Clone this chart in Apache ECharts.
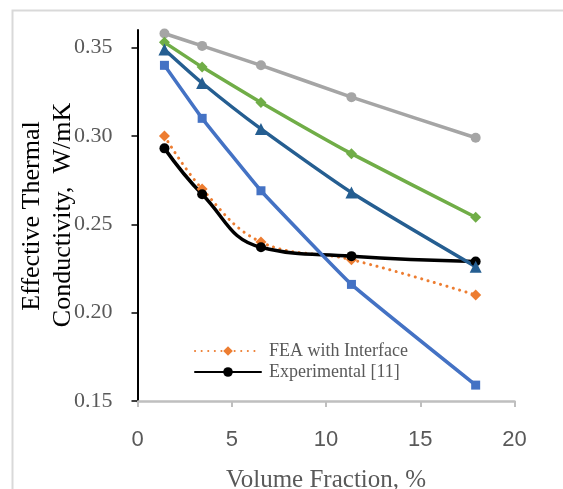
<!DOCTYPE html>
<html>
<head>
<meta charset="utf-8">
<script src="https://cdn.jsdelivr.net/npm/echarts@6/dist/echarts.min.js"></script>
<style>
  html, body { margin: 0; padding: 0; background: #fff; }
  #chart { width: 563px; height: 489px; }
</style>
</head>
<body>
<div id="chart"></div>
<script>
// volume fraction, %
var volFrac = [1.43, 3.43, 6.55, 11.35, 17.94];

// effective thermal conductivity, W/mK
var seriesGray = [0.358, 0.351, 0.340, 0.322, 0.299];
var seriesGreen = [0.353, 0.339, 0.319, 0.290, 0.254];
var seriesNavy = [0.349, 0.330, 0.304, 0.268, 0.226];
var seriesBlue = [0.340, 0.310, 0.269, 0.216, 0.159];
var feaInterface = [0.300, 0.270, 0.240, 0.230, 0.210];
var experimental = [0.293, 0.267, 0.237, 0.232, 0.229];

var yTicks = [0.15, 0.20, 0.25, 0.30, 0.35];
var xTicks = [0, 5, 10, 15, 20];

function pairs(ys) {
    return volFrac.map(function (x, i) { return [x, ys[i]]; });
}

function lineSeries(name, ys, color, symbol, size, smooth, dotted) {
    return {
        name: name,
        type: 'line',
        data: pairs(ys),
        smooth: smooth,
        symbol: symbol,
        symbolSize: size,
        showSymbol: true,
        itemStyle: { color: color },
        lineStyle: {
            color: color,
            width: dotted ? 3 : 3.5,
            type: dotted ? [0.1, 6.5] : 'solid',
            cap: 'round'
        },
        emphasis: { disabled: true }
    };
}

var chartDom = document.getElementById('chart');
var chart = echarts.init(chartDom, null, { renderer: 'canvas' });

var option = {
    animation: false,
    backgroundColor: '#fff',
    graphic: [
        {
            type: 'polyline',
            shape: { points: [[12.5, 489], [12.5, 10.5], [563, 10.5]] },
            style: { stroke: '#d9d9d9', lineWidth: 2, fill: null },
            silent: true
        },
        {
            type: 'text',
            x: 32, y: 216,
            rotation: Math.PI / 2,
            style: {
                text: 'Effective Thermal',
                font: '26px "Liberation Serif"',
                fill: '#000',
                textAlign: 'center',
                textVerticalAlign: 'middle'
            },
            silent: true
        },
        {
            type: 'text',
            x: 63, y: 215,
            rotation: Math.PI / 2,
            style: {
                text: 'Conductivity,  W/mK',
                font: '26px "Liberation Serif"',
                fill: '#000',
                textAlign: 'center',
                textVerticalAlign: 'middle'
            },
            silent: true,
            z: 10
        }
    ],
    legend: {
        data: ['FEA with Interface', 'Experimental [11]'],
        orient: 'vertical',
        left: 189,
        top: 337,
        itemWidth: 66,
        itemHeight: 12,
        itemGap: 3,
        textStyle: {
            fontFamily: 'Liberation Serif',
            fontSize: 18,
            color: '#595959',
            padding: [0, 0, 0, 3]
        }
    },
    grid: {
        left: 137.5,
        right: 48.5,
        top: 30,
        bottom: 88,
        containLabel: false,
        outerBoundsMode: 'none'
    },
    xAxis: {
        type: 'value',
        min: 0,
        max: 20,
        interval: 5,
        name: 'Volume Fraction, %',
        nameLocation: 'middle',
        nameGap: 67,
        nameTextStyle: {
            fontFamily: 'Liberation Serif',
            fontSize: 25,
            color: '#595959'
        },
        axisLine: { lineStyle: { color: '#bfbfbf', width: 2.5 } },
        axisTick: { show: true, length: 6, lineStyle: { color: '#bfbfbf', width: 2 } },
        axisLabel: {
            margin: 28,
            fontFamily: 'Liberation Sans',
            fontSize: 22,
            color: '#595959',
            customValues: xTicks
        },
        splitLine: { show: false }
    },
    yAxis: {
        type: 'value',
        min: 0.15,
        max: 0.36,
        axisLine: { show: true, onZero: false, lineStyle: { color: '#000', width: 2 } },
        axisTick: {
            show: true, length: 6,
            lineStyle: { color: '#000', width: 1.5 },
            customValues: yTicks
        },
        axisLabel: {
            margin: 25,
            fontFamily: 'Liberation Serif',
            fontSize: 22,
            color: '#595959',
            customValues: yTicks,
            formatter: function (v) { return v.toFixed(2); }
        },
        splitLine: { show: false }
    },
    series: [
        lineSeries('FEA with Interface', feaInterface, '#ed7d31', 'diamond', 11, 0.4, true),
        lineSeries('Experimental [11]', experimental, '#000000', 'circle', 10, 0.45, false),
        lineSeries('Series 1', seriesGray, '#a5a5a5', 'circle', 10, 0.1, false),
        lineSeries('Series 2', seriesGreen, '#70ad47', 'diamond', 11, 0.15, false),
        lineSeries('Series 3', seriesNavy, '#255e91', 'triangle', 12, 0.2, false),
        lineSeries('Series 4', seriesBlue, '#4472c4', 'rect', 9, 0.1, false)
    ]
};

option && chart.setOption(option);
</script>
</body>
</html>
